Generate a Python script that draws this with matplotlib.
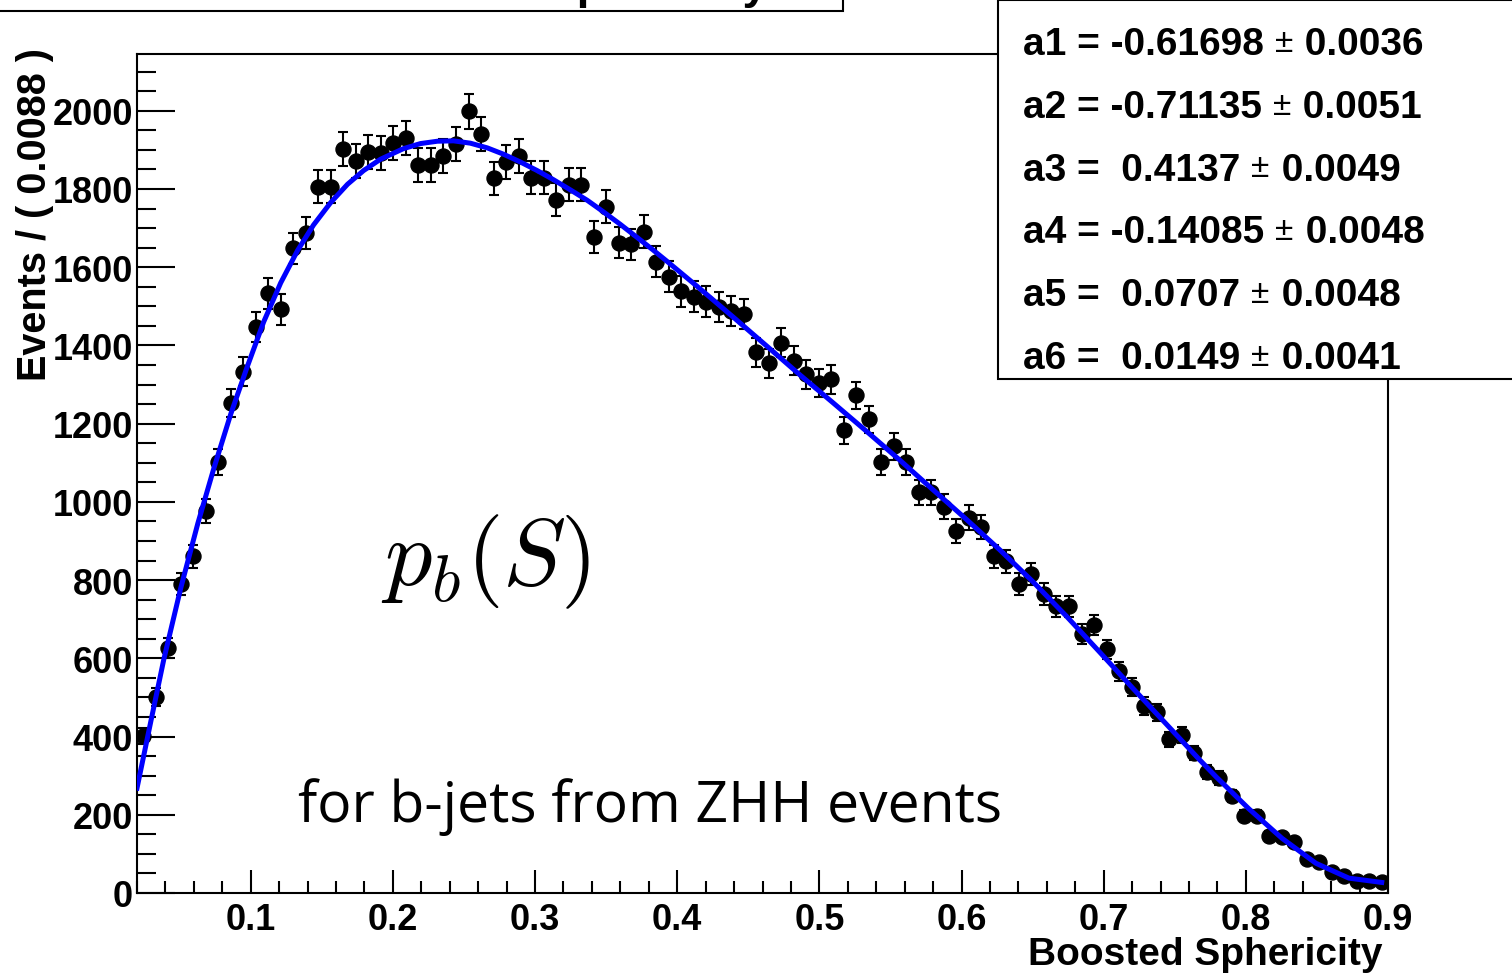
import numpy as np
import matplotlib.pyplot as plt
from matplotlib.ticker import MultipleLocator
from matplotlib.patches import Rectangle
from matplotlib.text import Annotation

plt.rcParams['font.family'] = ['Liberation Sans', 'DejaVu Sans']
plt.rcParams['font.weight'] = 'bold'

# histogram: 100 bins of boosted sphericity between 0.02 and 0.9
x_lo, x_hi, n_bins = 0.02, 0.9, 100
counts = [401, 501, 626, 789, 861, 976, 1101, 1252, 1333, 1448,
          1533, 1492, 1648, 1688, 1806, 1806, 1903, 1872, 1894, 1893,
          1918, 1931, 1862, 1862, 1885, 1914, 1998, 1941, 1827, 1868,
          1885, 1829, 1829, 1773, 1811, 1811, 1678, 1755, 1663, 1658,
          1691, 1614, 1576, 1538, 1525, 1512, 1499, 1487, 1481, 1382,
          1354, 1407, 1361, 1326, 1303, 1313, 1183, 1272, 1211, 1101,
          1142, 1101, 1024, 1024, 988, 925, 960, 935, 861, 848,
          789, 815, 764, 733, 733, 662, 685, 623, 567, 526,
          478, 462, 393, 404, 358, 309, 294, 248, 197, 197,
          146, 143, 130, 87, 79, 54, 43, 31, 31, 28]

# fitted curve (blue)
curve_x = [0.0200, 0.0298, 0.0389, 0.0508, 0.0628, 0.0740, 0.0860, 0.0975,
           0.1091, 0.1211, 0.1330, 0.1442, 0.1562, 0.1681, 0.1794, 0.1913,
           0.2074, 0.2194, 0.2313, 0.2426, 0.2545, 0.2664, 0.2777, 0.2896,
           0.3015, 0.3128, 0.3247, 0.3367, 0.3479, 0.3598, 0.3718, 0.3830,
           0.3935, 0.4160, 0.4392, 0.4631, 0.4862, 0.5094, 0.5333, 0.5565,
           0.5796, 0.6035, 0.6267, 0.6499, 0.6737, 0.6969, 0.7201, 0.7440,
           0.7671, 0.7791, 0.8022, 0.8254, 0.8493, 0.8725, 0.8956]
curve_y = [268, 440, 598, 780, 945, 1085, 1225, 1345,
           1460, 1560, 1643, 1708, 1765, 1812, 1847, 1876,
           1903, 1916, 1922, 1923, 1917, 1905, 1889, 1869,
           1847, 1824, 1798, 1771, 1742, 1710, 1676, 1644,
           1613, 1545, 1473, 1398, 1325, 1254, 1180, 1107,
           1032, 955, 878, 797, 708, 617, 525, 432,
           342, 297, 215, 140, 76, 38, 27]

param_names = ["a1 = -0.61698", "a2 = -0.71135", "a3 =  0.4137",
               "a4 = -0.14085", "a5 =  0.0707", "a6 =  0.0149"]
param_errs = ["0.0036", "0.0051", "0.0049", "0.0048", "0.0048", "0.0041"]

edges = np.linspace(x_lo, x_hi, n_bins + 1)
centers = 0.5 * (edges[:-1] + edges[1:])
errors = np.sqrt(counts)  # poisson errors, as ROOT draws them

W, H = 1512, 978
fig = plt.figure(figsize=(W / 100, H / 100), dpi=100)
ax = fig.add_axes([137 / W, 84 / H, (1388 - 137) / W, (894 - 55) / H])

ax.errorbar(centers, counts, yerr=errors, fmt='o', color='black', ms=10.8,
            elinewidth=1.5, capsize=3.6, capthick=1.5, zorder=3)
ax.plot(curve_x, curve_y, color='#0000ff', lw=3.6, zorder=4)

ax.set_xlim(x_lo, x_hi)
ax.set_ylim(0, 2145)
ax.xaxis.set_minor_locator(MultipleLocator(0.02))
ax.yaxis.set_major_locator(MultipleLocator(200))
ax.yaxis.set_minor_locator(MultipleLocator(50))
ax.set_xticks(np.arange(0.1, 0.95, 0.1))
ax.set_xticklabels(['0.1', '0.2', '0.3', '0.4', '0.5', '0.6', '0.7', '0.8', '0.9'])
ax.tick_params(axis='x', which='major', direction='in', length=16.5, width=1.5,
               labelsize=26, pad=6.5)
ax.tick_params(axis='x', which='minor', direction='in', length=8.6, width=1.5)
ax.tick_params(axis='y', which='major', direction='in', length=27, width=1.5,
               labelsize=26, pad=3)
ax.tick_params(axis='y', which='minor', direction='in', length=13.7, width=1.5)
for s in ax.spines.values():
    s.set_linewidth(1.5)

fig.text(35 / W, 1 - 48 / H, "Events / ( 0.0088 )", rotation=90, ha='center',
         va='top', fontsize=28.5)
fig.text(1383 / W, 1 - 955 / H, "Boosted Sphericity", ha='right', va='center',
         fontsize=28)

ax.text(0.265, 850, r'$p_b(S)$', ha='center', va='center', fontsize=68,
        math_fontfamily='cm')
ax.text(0.133, 184, "for b-jets from ZHH events", ha='left', va='baseline',
        fontsize=41, family='Open Sans', fontweight='normal')

# title box, mostly cut off at the top
fig.add_artist(Rectangle((-0.01, 1 - 12 / H), 0.01 + 843 / W, 0.1,
                         transform=fig.transFigure, facecolor='white',
                         edgecolor='black', lw=1.5))
fig.text(350 / W, 1 + 2 / H, "Boosted Sphericity", ha='left', va='baseline',
         fontsize=33)

# fit parameter box
fig.add_artist(Rectangle((998 / W, 1 - 380 / H), 0.5, 379 / H,
                         transform=fig.transFigure, facecolor='white',
                         edgecolor='black', lw=1.5, zorder=5))
for i, (name, err) in enumerate(zip(param_names, param_errs)):
    base = 55 + i * 62.8
    t1 = fig.text(1023 / W, 1 - base / H, name + " ", ha='left', va='baseline',
                  fontsize=28, zorder=6)
    t2 = Annotation("\u00b1", xy=(1, 0), xycoords=t1, xytext=(0, 3),
                    textcoords='offset points', ha='left', va='bottom',
                    fontsize=24, fontweight='normal', zorder=6)
    fig.add_artist(t2)
    t3 = Annotation(" " + err, xy=(1, 0), xycoords=t2, xytext=(1, -3),
                    textcoords='offset points', ha='left', va='bottom',
                    fontsize=28, zorder=6)
    fig.add_artist(t3)

fig.savefig('out.png', dpi=100)
